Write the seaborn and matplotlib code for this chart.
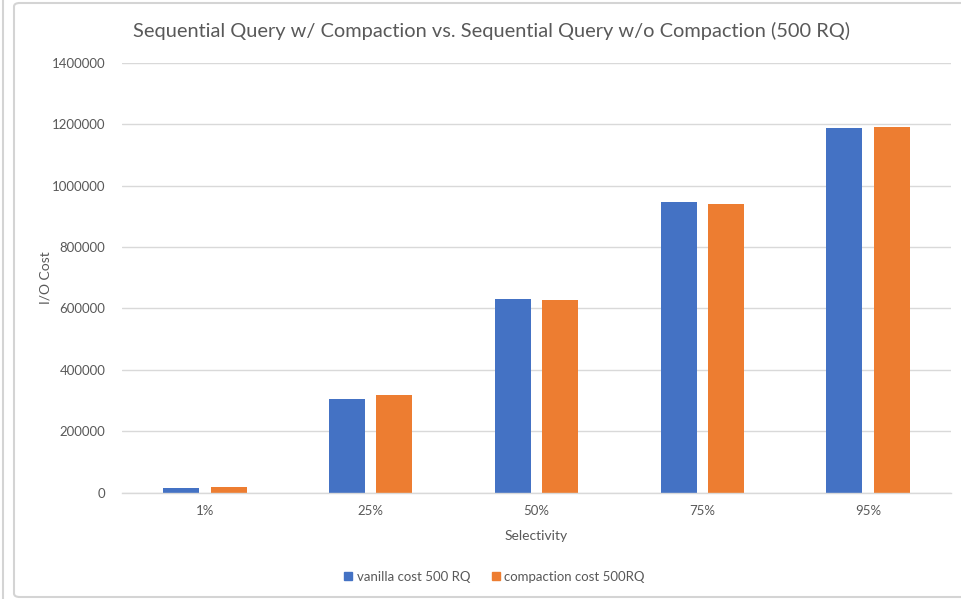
import matplotlib
matplotlib.use("Agg")
import matplotlib.pyplot as plt
from matplotlib.patches import FancyBboxPatch
from matplotlib.lines import Line2D
import seaborn as sns
import pandas as pd

# Chart data
selectivity = ["1%", "25%", "50%", "75%", "95%"]
vanilla_cost = [14000, 306000, 630000, 947000, 1186000]
compaction_cost = [17500, 317000, 627000, 939000, 1190000]
series_names = ["vanilla cost 500 RQ", "compaction cost 500RQ"]
y_ticks = [0, 200000, 400000, 600000, 800000, 1000000, 1200000, 1400000]

df = pd.DataFrame({
    "Selectivity": selectivity * 2,
    "cost": vanilla_cost + compaction_cost,
    "series": [series_names[0]] * len(selectivity) + [series_names[1]] * len(selectivity),
})

sns.set_theme(style="white")
plt.rcParams["font.family"] = ["Lato", "DejaVu Sans"]

BLUE = "#4472C4"
ORANGE = "#ED7D31"
TEXT = "#595959"
GRID = "#D9D9D9"

fig = plt.figure(figsize=(9.61, 5.99), dpi=100)
ax = fig.add_axes([0.127, 0.1775, 0.8626, 0.7178])

sns.barplot(data=df, x="Selectivity", y="cost", hue="series",
            palette=[BLUE, ORANGE], width=0.572, gap=0.24,
            saturation=1, legend=False, linewidth=0, ax=ax)

ax.set_ylim(0, 1400000)
ax.set_yticks(y_ticks)
ax.set_yticklabels([str(v) for v in y_ticks])
ax.yaxis.grid(True, color=GRID, linewidth=1)
ax.set_axisbelow(True)
for side in ["top", "right", "left"]:
    ax.spines[side].set_visible(False)
ax.spines["bottom"].set_color(GRID)
ax.spines["bottom"].set_linewidth(1)
ax.tick_params(axis="both", length=0, colors=TEXT, labelsize=9.5)
ax.tick_params(axis="y", pad=12)
ax.tick_params(axis="x", pad=9)

ax.set_xlabel("Selectivity", color=TEXT, fontsize=10, labelpad=9)
ax.set_ylabel("I/O Cost", color=TEXT, fontsize=10, labelpad=0)

fig.text(0.511, 0.948, "Sequential Query w/ Compaction vs. Sequential Query w/o Compaction (500 RQ)",
         ha="center", va="center", color=TEXT, fontsize=14.4)

handles = [Line2D([], [], marker="s", linestyle="none", markersize=6,
                  markerfacecolor=c, markeredgecolor=c) for c in (BLUE, ORANGE)]
fig.legend(handles, series_names, loc="center", bbox_to_anchor=(0.514, 0.037),
           ncol=2, frameon=False, fontsize=9.5, labelcolor=TEXT,
           handletextpad=0.25, columnspacing=1.5, handlelength=0.8)

# Chart frame
fig.add_artist(FancyBboxPatch((14 / 961, 2 / 599), 1.2, 1 - 5 / 599,
                              boxstyle="round,pad=0,rounding_size=0.006",
                              transform=fig.transFigure, facecolor="none",
                              edgecolor="#D4D4D4", linewidth=1.5, clip_on=False))
fig.add_artist(Line2D([2.5 / 961, 2.5 / 961], [0, 1], transform=fig.transFigure,
                      color="#D4D4D4", linewidth=1.5))

fig.savefig("out.png", dpi=100)
